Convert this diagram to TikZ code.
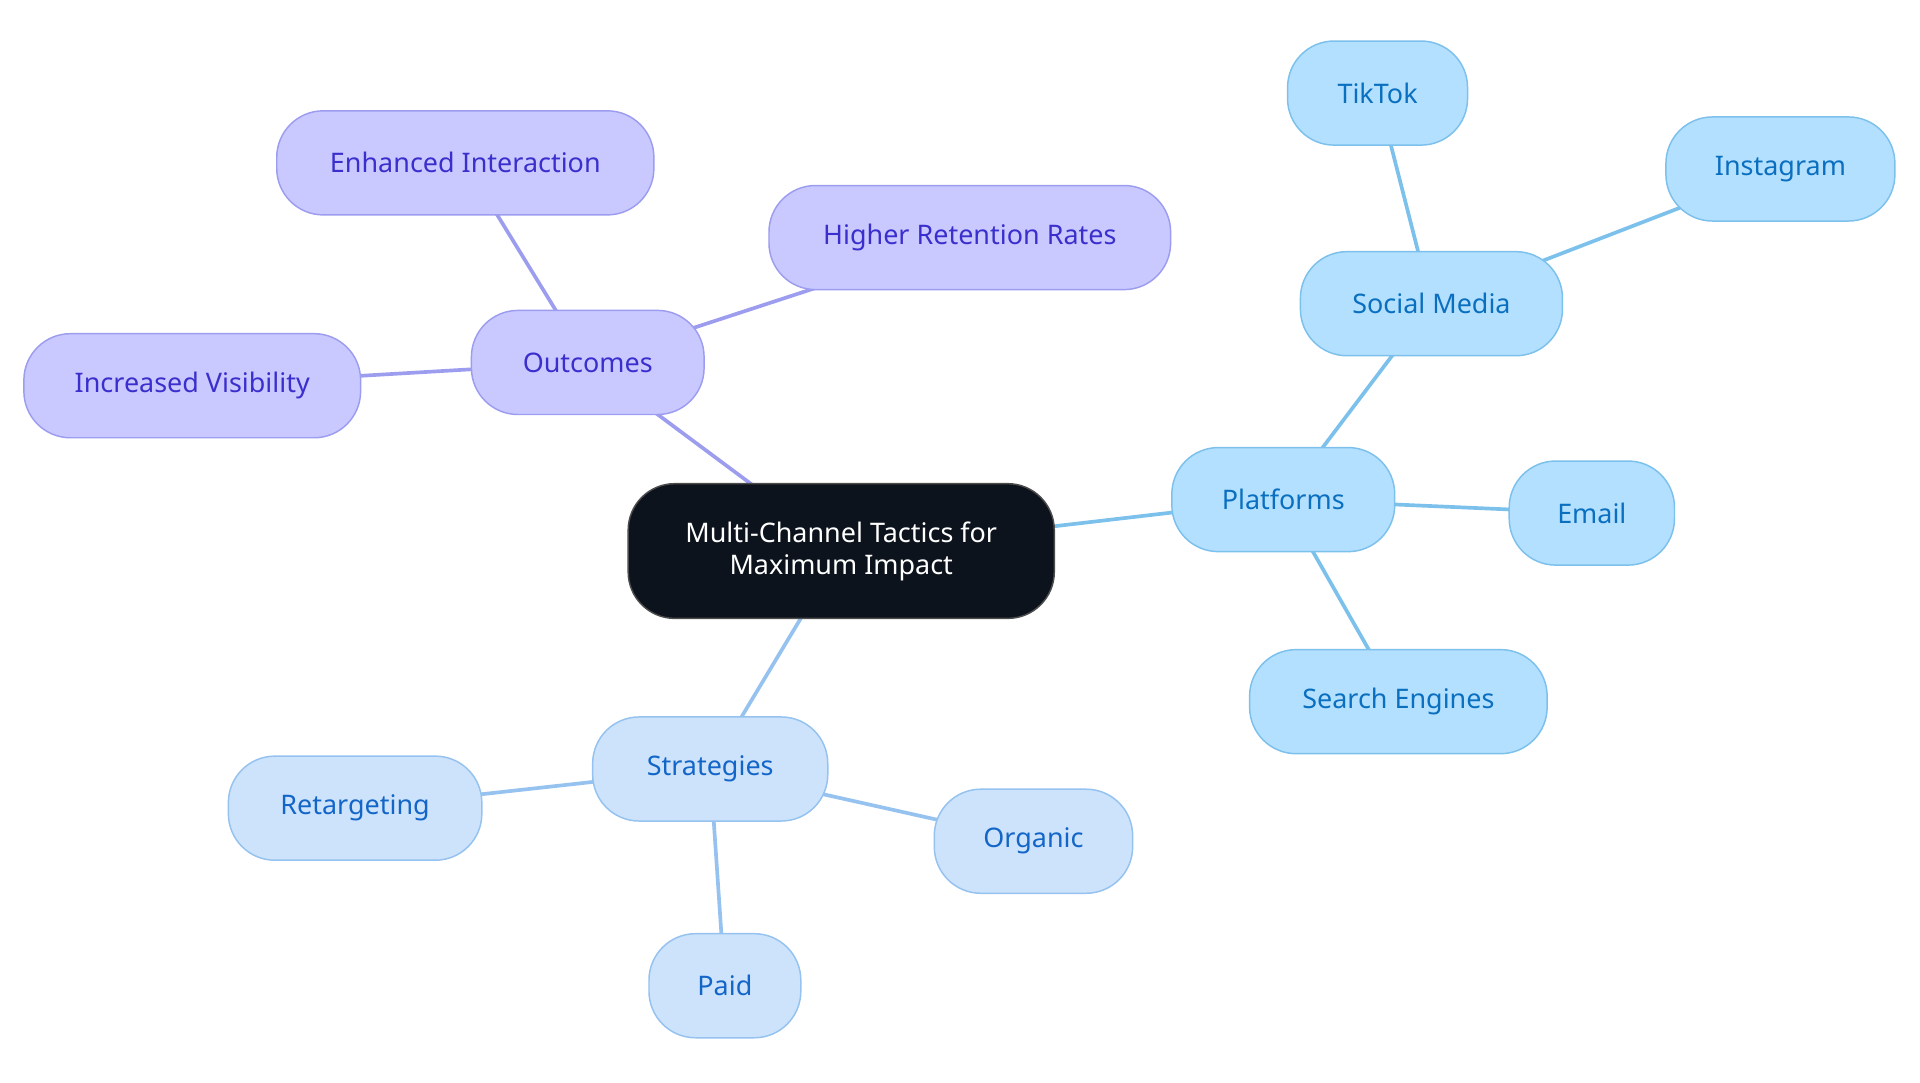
\documentclass[tikz,border=0pt]{standalone}
\usepackage{fontspec}
\setmainfont{Noto Sans}
\usetikzlibrary{backgrounds}
\definecolor{pfill}{HTML}{C9C9FF}\definecolor{pstroke}{HTML}{9D9DF0}\definecolor{ptext}{HTML}{3A2FCC}
\definecolor{bfill}{HTML}{B3E0FF}\definecolor{bstroke}{HTML}{7CC0EC}\definecolor{btext}{HTML}{0B6FBF}
\definecolor{lfill}{HTML}{CCE3FB}\definecolor{lstroke}{HTML}{95C2EF}\definecolor{ltext}{HTML}{1366C8}
\definecolor{cfill}{HTML}{0D131C}
\begin{document}
\begin{tikzpicture}[x=1pt,y=-1pt,
 base/.style={rounded corners=38pt,draw,line width=1.2pt,align=center,inner sep=0pt,font=\fontsize{22}{26}\selectfont,minimum height=85pt},
 pu/.style={base,fill=pfill,draw=pstroke,text=ptext},
 bl/.style={base,fill=bfill,draw=bstroke,text=btext},
 lb/.style={base,fill=lfill,draw=lstroke,text=ltext},
 pe/.style={draw=pstroke,line width=3pt},
 be/.style={draw=bstroke,line width=3pt},
 le/.style={draw=lstroke,line width=3pt}]
\useasboundingbox (0,0) rectangle (1568,884);
\node[base,fill=cfill,draw=black!70,text=white,minimum width=348pt,minimum height=110pt] (ctr) at (687,450) {Multi-Channel Tactics for\\Maximum Impact};
\node[pu,minimum width=190pt] (out) at (480,296) {Outcomes};
\node[pu,minimum width=308pt] (ei) at (380,133) {Enhanced Interaction};
\node[pu,minimum width=328pt] (hr) at (792,194) {Higher Retention Rates};
\node[pu,minimum width=275pt] (iv) at (157,315) {Increased Visibility};
\node[bl,minimum width=182pt] (pl) at (1048,408) {Platforms};
\node[bl,minimum width=214pt] (sm) at (1169,248) {Social Media};
\node[bl,minimum width=147pt] (tt) at (1125,76) {TikTok};
\node[bl,minimum width=187pt] (ig) at (1454,138) {Instagram};
\node[bl,minimum width=135pt] (em) at (1300,419) {Email};
\node[bl,minimum width=243pt] (se) at (1142,573) {Search Engines};
\node[lb,minimum width=192pt] (st) at (580,628) {Strategies};
\node[lb,minimum width=207pt] (rt) at (290,660) {Retargeting};
\node[lb,minimum width=162pt] (or) at (844,687) {Organic};
\node[lb,minimum width=124pt] (pd) at (592,805) {Paid};
\begin{scope}[on background layer]
\draw[pe] (ctr.center) -- (out.center); \draw[pe] (out.center) -- (ei.center); \draw[pe] (out.center) -- (hr.center); \draw[pe] (out.center) -- (iv.center);
\draw[be] (ctr.center) -- (pl.center); \draw[be] (pl.center) -- (sm.center); \draw[be] (sm.center) -- (tt.center); \draw[be] (sm.center) -- (ig.center);
\draw[be] (pl.center) -- (em.center); \draw[be] (pl.center) -- (se.center);
\draw[le] (ctr.center) -- (st.center); \draw[le] (st.center) -- (rt.center); \draw[le] (st.center) -- (or.center); \draw[le] (st.center) -- (pd.center);
\end{scope}
\end{tikzpicture}
\end{document}
